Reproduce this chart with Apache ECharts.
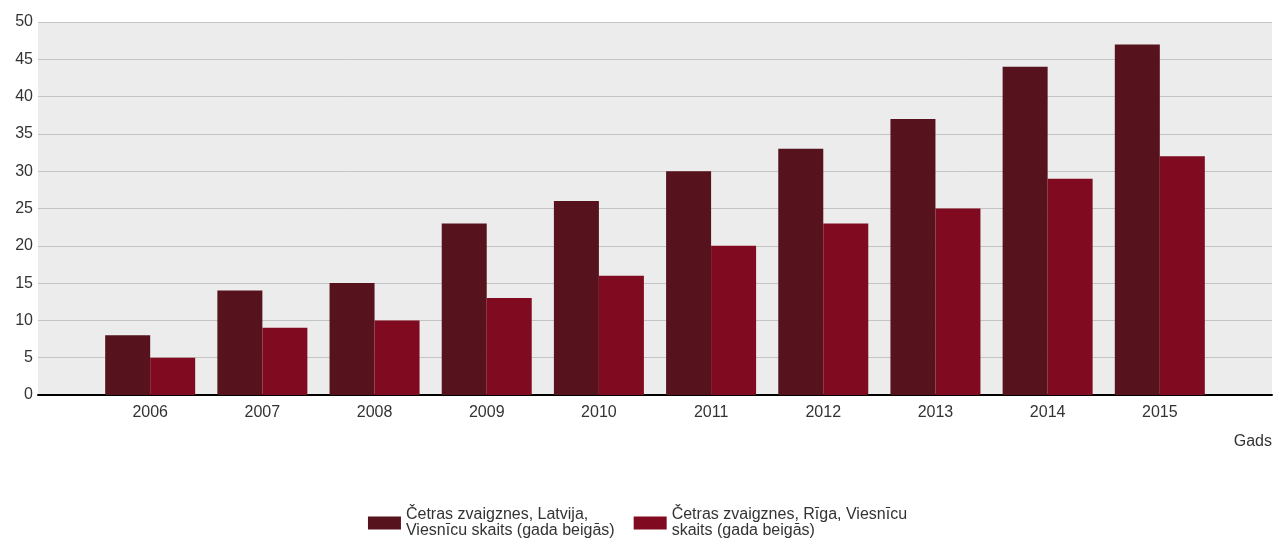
<!DOCTYPE html>
<html>
<head>
<meta charset="utf-8">
<script src="https://cdn.jsdelivr.net/npm/echarts@6/dist/echarts.min.js"></script>
<style>
  html, body { margin: 0; padding: 0; background: #ffffff; }
  #chart { width: 1275px; height: 540px; }
</style>
</head>
<body>
<div id="chart"></div>
<script>
// Four-star hotels at year end: Latvia total vs. Riga
const years = [2006, 2007, 2008, 2009, 2010, 2011, 2012, 2013, 2014, 2015];
const latvija = [8, 14, 15, 23, 26, 30, 33, 37, 44, 47];
const riga = [5, 9, 10, 13, 16, 20, 23, 25, 29, 32];
const yTicks = [0, 5, 10, 15, 20, 25, 30, 35, 40, 45, 50];
const seriesNames = [
  'Četras zvaigznes, Latvija,\nViesnīcu skaits (gada beigās)',
  'Četras zvaigznes, Rīga, Viesnīcu\nskaits (gada beigās)'
];
const axisName = 'Gads';

const chart = echarts.init(document.getElementById('chart'));
const font = '"Liberation Sans", Arial, sans-serif';

chart.setOption({
  animation: false,
  textStyle: { fontFamily: font },
  grid: {
    left: 38, right: 3, top: 22, bottom: 145,
    show: true, backgroundColor: '#ececec', borderWidth: 0
  },
  xAxis: {
    type: 'value',
    min: years[0] - 1,
    max: years[years.length - 1] + 1,
    interval: 1,
    splitLine: { show: false },
    axisTick: { show: false },
    axisLine: { show: true, onZero: false, lineStyle: { color: '#000', width: 2 } },
    axisLabel: {
      color: '#333', fontSize: 16, margin: 10,
      formatter: v => years.includes(v) ? String(v) : ''
    },
    name: axisName,
    nameLocation: 'end',
    nameGap: 0,
    nameTextStyle: {
      color: '#333', fontSize: 16, align: 'right', verticalAlign: 'top',
      padding: [39, 0, 0, 0]
    }
  },
  yAxis: {
    type: 'value',
    min: yTicks[0],
    max: yTicks[yTicks.length - 1],
    interval: 5,
    axisLine: { show: false },
    axisTick: { show: false },
    axisLabel: { color: '#333', fontSize: 16, margin: 5 },
    splitLine: { show: true, lineStyle: { color: '#c4c4c4', width: 1 } }
  },
  legend: {
    top: 502,
    left: 'center',
    itemWidth: 33,
    itemHeight: 13,
    itemGap: 19,
    icon: 'rect',
    textStyle: { color: '#333', fontSize: 16, lineHeight: 16 },
    data: seriesNames
  },
  series: [
    {
      name: seriesNames[0],
      type: 'bar',
      barWidth: 45,
      barGap: 0,
      itemStyle: { color: '#56121d' },
      data: years.map((y, i) => [y, latvija[i]])
    },
    {
      name: seriesNames[1],
      type: 'bar',
      barWidth: 45,
      barGap: 0,
      itemStyle: { color: '#800a1f' },
      data: years.map((y, i) => [y, riga[i]])
    }
  ]
});
</script>
</body>
</html>
